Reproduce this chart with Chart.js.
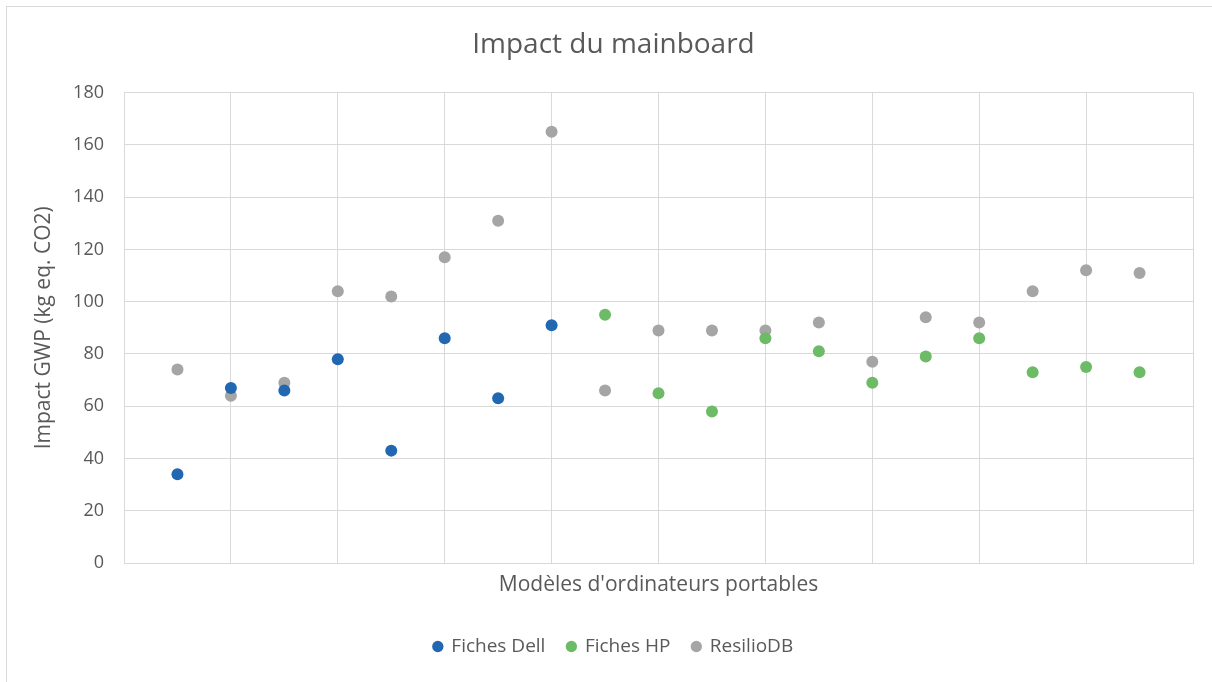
<!DOCTYPE html>
<html lang="fr">
<head>
<meta charset="utf-8">
<title>Impact du mainboard</title>
<script src="https://cdn.jsdelivr.net/npm/chart.js@4/dist/chart.umd.min.js"></script>
<style>
  html, body { margin: 0; padding: 0; background: #ffffff; overflow: hidden; }
  #wrap { position: relative; width: 1212px; height: 682px; }
  #frame {
    position: absolute; left: 6px; top: 6px; width: 1300px; height: 800px;
    border-left: 1px solid #d9d9d9; border-top: 1px solid #d9d9d9;
    pointer-events: none;
  }
  canvas { position: absolute; left: 0; top: 0; }
</style>
</head>
<body>
<div id="wrap">
  <canvas id="chart" width="1212" height="682"></canvas>
  <div id="frame"></div>
</div>
<script>
// Laptop model positions along the x axis
const dellModels = [1, 2, 3, 4, 5, 6, 7, 8];
const hpModels = [9, 10, 11, 12, 13, 14, 15, 16, 17, 18, 19];
const resilioModels = [1, 2, 3, 4, 5, 6, 7, 8, 9, 10, 11, 12, 13, 14, 15, 16, 17, 18, 19];

// Mainboard GWP impact (kg eq. CO2)
const dellValues = [34, 67, 66, 78, 43, 86, 63, 91];
const hpValues = [95, 65, 58, 86, 81, 69, 79, 86, 73, 75, 73];
const resilioValues = [74, 64, 69, 104, 102, 117, 131, 165, 66, 89, 89, 89, 92, 77, 94, 92, 104, 112, 111];

// Y axis range
const yTicks = { min: 0, max: 180, step: 20 };

const seriesNames = ['Fiches Dell', 'Fiches HP', 'ResilioDB'];
const seriesColors = ['#2167b1', '#6dbb67', '#a5a5a5'];

const toPoints = (xs, ys) => xs.map((x, i) => ({ x: x, y: ys[i] }));

const FONT = '"Open Sans", "Noto Sans", sans-serif';
const TEXT = '#595959';
const GRID = '#d9d9d9';

const datasets = [
  toPoints(dellModels, dellValues),
  toPoints(hpModels, hpValues),
  toPoints(resilioModels, resilioValues)
].map((pts, i) => ({
  label: seriesNames[i],
  data: pts,
  backgroundColor: seriesColors[i],
  borderColor: seriesColors[i],
  pointRadius: 6,
  pointHoverRadius: 6,
  pointBorderWidth: 0,
  showLine: false
}));

new Chart(document.getElementById('chart'), {
  type: 'scatter',
  data: { datasets },
  options: {
    responsive: false,
    animation: false,
    devicePixelRatio: 1,
    layout: { padding: { left: 34, right: 19, top: 0, bottom: 16 } },
    plugins: {
      title: {
        display: true,
        text: 'Impact du mainboard',
        color: TEXT,
        font: { family: FONT, size: 28, weight: 'normal', lineHeight: 1.2 },
        padding: { top: 28, bottom: 31 }
      },
      legend: {
        display: true,
        position: 'bottom',
        labels: {
          color: TEXT,
          font: { family: FONT, size: 19 },
          usePointStyle: true,
          pointStyle: 'circle',
          boxWidth: 8,
          boxHeight: 8,
          padding: 22
        }
      },
      tooltip: { enabled: false }
    },
    scales: {
      x: {
        type: 'linear',
        min: 0,
        max: 20,
        ticks: { display: false, stepSize: 2 },
        grid: { color: GRID, lineWidth: 1, drawTicks: false },
        border: { display: true, color: GRID },
        title: {
          display: true,
          text: "Modèles d'ordinateurs portables",
          color: TEXT,
          font: { family: FONT, size: 21, lineHeight: 1 },
          padding: { top: 0, bottom: 19 }
        },
        afterFit: (scale) => { scale.height = 52; }
      },
      y: {
        min: yTicks.min,
        max: yTicks.max,
        ticks: { stepSize: yTicks.step, color: TEXT, font: { family: FONT, size: 18 }, padding: 20 },
        grid: { color: GRID, lineWidth: 1, drawTicks: false },
        border: { display: true, color: GRID },
        title: {
          display: true,
          text: 'Impact GWP (kg eq. CO2)',
          color: TEXT,
          font: { family: FONT, size: 21, lineHeight: 1 },
          padding: { top: 0, bottom: 0 }
        },
        afterFit: (scale) => { scale.width = 90; }
      }
    }
  }
});
</script>
</body>
</html>
